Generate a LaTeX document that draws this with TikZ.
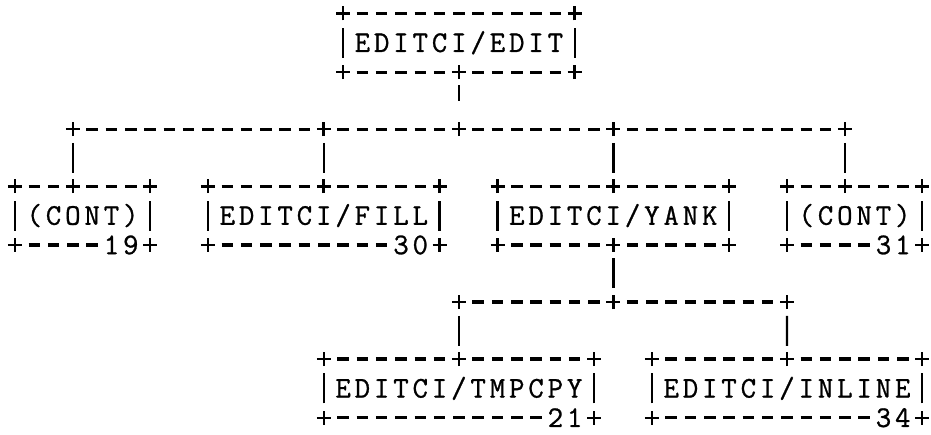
\documentclass[tikz,border=0pt]{standalone}
\usepackage{fontspec}
\newfontfamily\chartfont{Latin Modern Mono}[FakeBold=0.9]
\usepackage{tikz}
\usetikzlibrary{calc}

\newdimen\ascpitch
\ascpitch=19.3pt
\newcommand\ascstrut{\rule[-6.65pt]{0pt}{28.8pt}}
\newcommand\ascdash{\makebox[0pt]{\rule[6.15pt]{11.5pt}{3.2pt}}}
\newcommand\ascplus{\makebox[0pt]{\rule[6.45pt]{14pt}{2.6pt}}\makebox[0pt]{\rule[0.75pt]{2.6pt}{14pt}}}
\newcommand\ascbar{\makebox[0pt]{\rule[-7.25pt]{2.4pt}{30pt}}}
\newcommand\ascchar[1]{\hbox to\ascpitch{\hss\ifx#1-\ascdash\else\ifx#1+\ascplus\else\ifx#1|\ascbar\else\raisebox{-1.4pt}{#1}\fi\fi\fi\hss}}
\def\ascloop#1{\ifx#1\relax\else\ascchar#1\expandafter\ascloop\fi}
\newcommand\asc[1]{\hbox{\ascstrut\ascloop#1\relax}}
\newcommand\ascbox[3]{\vbox{\offinterlineskip\asc{#1}\asc{#2}\asc{#3}}}

\tikzset{
  chart/.style={inner sep=0pt, outer sep=0pt, font=\chartfont\fontsize{30}{28.8}\selectfont},
  link/.style={line width=2.4pt, shorten <=13.8pt, shorten >=13.8pt}
}

\begin{document}
\begin{tikzpicture}[x=19.3pt, y=-28.8pt]
                        \useasboundingbox (-0.777,-0.486) rectangle (47.461,14.618);

                        \node (edit) at (23, 1) [chart] {\ascbox{+-----------+}{|EDITCI/EDIT|}{+-----+-----+}};
                        \node (bus1) at (23, 4) [chart] {\asc{+------------+------+-------+-----------+}};
                        \node (contA) at (3.5, 7) [chart] {\ascbox{+--+---+}{|(CONT)|}{+----19+}};
                        \node (fill) at (16, 7) [chart] {\ascbox{+-----+-----+}{|EDITCI/FILL|}{+---------30+}};
                        \node (yank) at (31, 7) [chart] {\ascbox{+-----+-----+}{|EDITCI/YANK|}{+-----+-----+}};
                        \node (contD) at (43.5, 7) [chart] {\ascbox{+--+---+}{|(CONT)|}{+----31+}};
                        \node (bus2) at (31.5, 10) [chart] {\asc{+-------+--------+}};
                        \node (tmpcpy) at (23, 13) [chart] {\ascbox{+------+------+}{|EDITCI/TMPCPY|}{+-----------21+}};
                        \node (inline) at (40, 13) [chart] {\ascbox{+------+------+}{|EDITCI/INLINE|}{+-----------34+}};

                        \draw[link] ($(edit)+(0,1)$) -- (bus1);
                        \draw[link] ($(bus1)+(-20,0)$) -- ($(contA)+(-0.5,-1)$);
                        \draw[link] ($(bus1)+(-7,0)$) -- ($(fill)+(0,-1)$);
                        \draw[link] ($(bus1)+(8,0)$) -- ($(yank)+(0,-1)$);
                        \draw[link] ($(bus1)+(20,0)$) -- ($(contD)+(-0.5,-1)$);

                        \draw[link] ($(yank)+(0,1)$) -- ($(bus2)+(-0.5,0)$);
                        \draw[link] ($(bus2)+(-8.5,0)$) -- ($(tmpcpy)+(0,-1)$);
                        \draw[link] ($(bus2)+(8.5,0)$) -- ($(inline)+(0,-1)$);
                    \end{tikzpicture}
\end{document}
